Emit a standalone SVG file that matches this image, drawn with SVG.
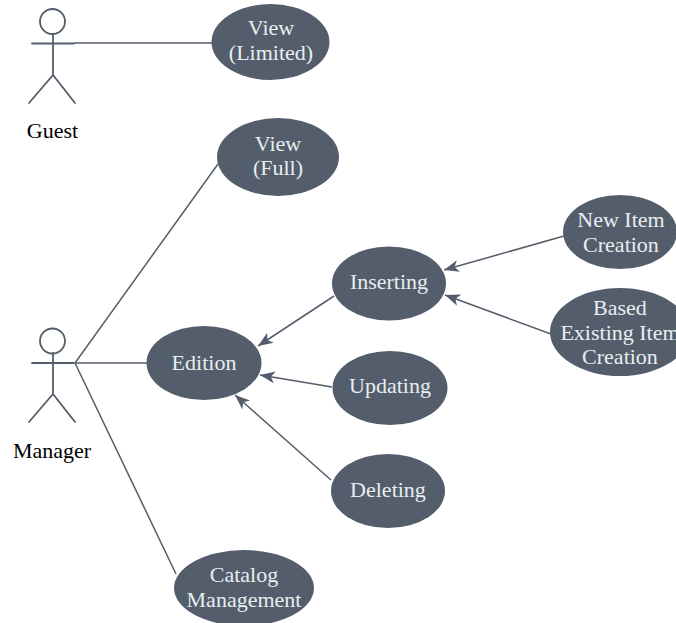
<svg xmlns="http://www.w3.org/2000/svg" width="676" height="623" viewBox="0 0 676 623">
<defs>
<style>
.n{fill:#545d6b}
.t{fill:#e8eef0;font:22px "Liberation Serif","Times New Roman",serif;text-anchor:middle}
.l{fill:#000;font:22px "Liberation Serif","Times New Roman",serif;text-anchor:middle}
.c{stroke:#545d6b;stroke-width:1.5;fill:none}
.a{stroke:#545d6b;stroke-width:1.8;fill:none;stroke-linecap:round}
</style>
<marker id="arr" markerUnits="userSpaceOnUse" markerWidth="16" markerHeight="12" refX="15" refY="6" orient="auto"><path d="M0,0 L15,6 L0,12 L4,6 Z" fill="#545d6b"/></marker>
</defs>
<rect width="676" height="623" fill="#fff"/>
<g id="connectors">
<path class="c" d="M74 43H212"/>
<path class="c" d="M75 363L218 164"/>
<path class="c" d="M75 363H147"/>
<path class="c" d="M75 363L176 574"/>
<path class="c" marker-end="url(#arr)" d="M334 296L258 346"/>
<path class="c" marker-end="url(#arr)" d="M332 387L260 375"/>
<path class="c" marker-end="url(#arr)" d="M331 480L235 395"/>
<path class="c" marker-end="url(#arr)" d="M564 236L444 270"/>
<path class="c" marker-end="url(#arr)" d="M551 334L445 295"/>
</g>
<g id="actor-guest">
<circle class="a" cx="52.500" cy="21.500" r="12.500"/>
<path class="a" d="M32 43.500H74M53 34V75M53 75L29 103M53 75L75 103"/>
<text class="l" x="52.500" y="138">Guest</text>
</g>
<g id="actor-manager">
<circle class="a" cx="52.500" cy="341" r="12.500"/>
<path class="a" d="M32 363H74M53 353V394M53 394L29 422M53 394L75 422"/>
<text class="l" x="52" y="458">Manager</text>
</g>
<g id="view-limited"><ellipse class="n" cx="270.500" cy="42" rx="59" ry="38"/><text class="t" x="271" y="35">View</text><text class="t" x="271" y="60">(Limited)</text></g>
<g id="view-full"><ellipse class="n" cx="278" cy="157" rx="61" ry="39"/><text class="t" x="278" y="151">View</text><text class="t" x="278" y="175">(Full)</text></g>
<g id="edition"><ellipse class="n" cx="204" cy="363" rx="57.500" ry="37"/><text class="t" x="204" y="370">Edition</text></g>
<g id="inserting"><ellipse class="n" cx="389" cy="283.500" rx="57" ry="37"/><text class="t" x="389" y="289">Inserting</text></g>
<g id="updating"><ellipse class="n" cx="390" cy="388" rx="57.500" ry="37"/><text class="t" x="390" y="393">Updating</text></g>
<g id="deleting"><ellipse class="n" cx="388" cy="491" rx="57" ry="37"/><text class="t" x="388" y="497">Deleting</text></g>
<g id="new-item"><ellipse class="n" cx="620" cy="232" rx="57" ry="37"/><text class="t" x="621" y="227">New Item</text><text class="t" x="621" y="252">Creation</text></g>
<g id="based-existing"><ellipse class="n" cx="620" cy="332" rx="70" ry="44"/><text class="t" x="620" y="315">Based</text><text class="t" x="620" y="340">Existing Item</text><text class="t" x="620" y="364">Creation</text></g>
<g id="catalog"><ellipse class="n" cx="244" cy="588" rx="70" ry="38"/><text class="t" x="244" y="582">Catalog</text><text class="t" x="244" y="607">Management</text></g>
</svg>
